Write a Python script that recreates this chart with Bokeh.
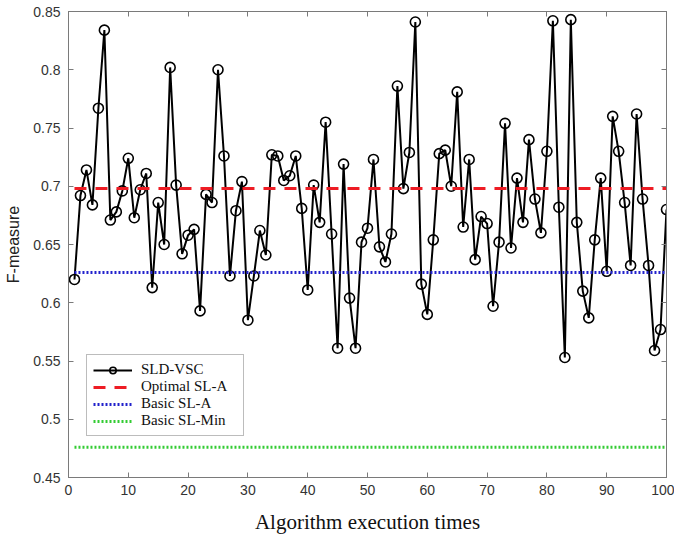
from bokeh.plotting import figure
from bokeh.models import (LinearAxis, FixedTicker, CustomJSTickFormatter, Legend,
                          LegendItem, Range1d)
from bokeh.embed import file_html
from bokeh.resources import INLINE

runs = list(range(1, 101))
sld_vsc = [0.620, 0.692, 0.714, 0.684, 0.767, 0.834, 0.671, 0.678, 0.696, 0.724,
           0.673, 0.697, 0.711, 0.613, 0.686, 0.650, 0.802, 0.701, 0.642, 0.658,
           0.663, 0.593, 0.693, 0.686, 0.800, 0.726, 0.623, 0.679, 0.704, 0.585,
           0.623, 0.662, 0.641, 0.727, 0.726, 0.705, 0.709, 0.726, 0.681, 0.611,
           0.701, 0.669, 0.755, 0.659, 0.561, 0.719, 0.604, 0.561, 0.652, 0.664,
           0.723, 0.648, 0.635, 0.659, 0.786, 0.698, 0.729, 0.841, 0.616, 0.590,
           0.654, 0.728, 0.731, 0.700, 0.781, 0.665, 0.723, 0.637, 0.674, 0.668,
           0.597, 0.652, 0.754, 0.647, 0.707, 0.669, 0.740, 0.689, 0.660, 0.730,
           0.842, 0.682, 0.553, 0.843, 0.669, 0.610, 0.587, 0.654, 0.707, 0.627,
           0.760, 0.730, 0.686, 0.632, 0.762, 0.689, 0.632, 0.559, 0.577, 0.680]
optimal_sla = 0.698
basic_sla = 0.626
basic_slmin = 0.476
x_ticks = [0, 10, 20, 30, 40, 50, 60, 70, 80, 90, 100]
y_ticks = [0.45, 0.5, 0.55, 0.6, 0.65, 0.7, 0.75, 0.8, 0.85]

p = figure(width=674, height=541, output_backend="svg", toolbar_location=None,
           x_range=Range1d(0, 100), y_range=Range1d(0.45, 0.85),
           min_border_left=68, min_border_right=8, min_border_top=11,
           min_border_bottom=64)
p.xgrid.visible = False
p.ygrid.visible = False
p.outline_line_color = "#7a7a7a"
p.outline_line_width = 1
p.background_fill_color = "white"
p.border_fill_color = "white"

fmt = CustomJSTickFormatter(code="var s = tick.toFixed(2); if (s.endsWith('0')) s = s.slice(0, -1); if (s.endsWith('.')) s = s.slice(0,-1); return s;")
blank = CustomJSTickFormatter(code="return '';")

for ax in p.xaxis:
    ax.ticker = FixedTicker(ticks=x_ticks)
    ax.axis_label = "Algorithm execution times"
    ax.axis_label_text_font = "Liberation Serif"
    ax.axis_label_text_font_size = "21px"
    ax.axis_label_text_font_style = "normal"
    ax.axis_label_text_color = "#111111"
    ax.axis_label_standoff = 12
    ax.major_label_standoff = 7
for ax in p.yaxis:
    ax.ticker = FixedTicker(ticks=y_ticks)
    ax.formatter = fmt
    ax.axis_label = "F-measure"
    ax.axis_label_text_font = "Liberation Sans"
    ax.axis_label_text_font_size = "16px"
    ax.axis_label_text_font_style = "normal"
    ax.axis_label_text_color = "#222222"
    ax.axis_label_standoff = 8
    ax.major_label_standoff = 8
for ax in list(p.xaxis) + list(p.yaxis):
    ax.major_label_text_font = "Liberation Sans"
    ax.major_label_text_font_size = "14px"
    ax.major_label_text_color = "#333333"
    ax.axis_line_color = "#7a7a7a"
    ax.major_tick_line_color = "#7a7a7a"
    ax.major_tick_in = 5
    ax.major_tick_out = 0
    ax.minor_tick_line_color = None

top = LinearAxis(ticker=FixedTicker(ticks=x_ticks), formatter=blank,
                 major_tick_in=5, major_tick_out=0, minor_tick_line_color=None,
                 axis_line_color="#7a7a7a", major_tick_line_color="#7a7a7a",
                 major_label_standoff=0)
right = LinearAxis(ticker=FixedTicker(ticks=y_ticks), formatter=blank,
                   major_tick_in=5, major_tick_out=0, minor_tick_line_color=None,
                   axis_line_color="#7a7a7a", major_tick_line_color="#7a7a7a",
                   major_label_standoff=0)
p.add_layout(top, "above")
p.add_layout(right, "right")

xs_line = [runs[0], runs[-1]]
r_main = p.line(runs, sld_vsc, line_color="black", line_width=2)
r_circ = p.scatter(runs, sld_vsc, marker="circle", size=10, fill_color=None,
                   line_color="black", line_width=1.6)
r_opt = p.line(xs_line, [optimal_sla] * 2, line_color="#ee1c24", line_width=3,
               line_dash="12 9")
r_bsa = p.line(xs_line, [basic_sla] * 2, line_color="#2222cc", line_width=3,
               line_dash="2 2")
r_bsm = p.line(xs_line, [basic_slmin] * 2, line_color="#33cc33", line_width=3,
               line_dash="2 2")

legend = Legend(items=[
    LegendItem(label="SLD-VSC", renderers=[r_main, r_circ]),
    LegendItem(label="Optimal SL-A", renderers=[r_opt]),
    LegendItem(label="Basic SL-A", renderers=[r_bsa]),
    LegendItem(label="Basic SL-Min", renderers=[r_bsm]),
], location=(18, 41))
legend.label_text_font = "Liberation Serif"
legend.label_text_font_size = "15px"
legend.label_text_color = "#111111"
legend.label_height = 16
legend.label_width = 96
legend.glyph_height = 16
legend.glyph_width = 39
legend.label_standoff = 9
legend.spacing = 0
legend.padding = 6
legend.margin = 0
legend.border_line_color = "#7a7a7a"
legend.border_line_width = 1
legend.background_fill_alpha = 1
p.add_layout(legend, "center")

open("out.html", "w").write(file_html(p, INLINE))
